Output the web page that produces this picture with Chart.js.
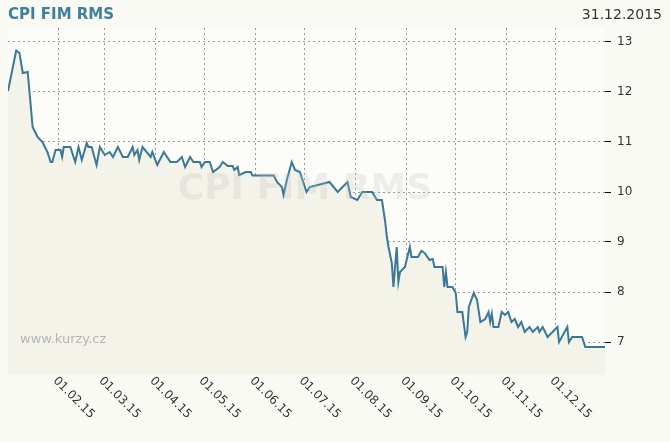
<!DOCTYPE html>
<html><head><meta charset="utf-8">
<script src="https://cdn.jsdelivr.net/npm/chart.js@4/dist/chart.umd.min.js"></script>
<style>body{margin:0;background:#fafaf5}#w{width:670px;height:442px;position:relative}</style>
</head><body><div id="w"><canvas id="c"></canvas></div>
<script>
// day of year 2015 (0 = 1 Jan) and closing price
const days = [0,5,7,9,12,13,15,18,21,24,26,27,29,32,33,34,38,41,43,45,48,49,51,54,56,59,62,64,67,70,73,76,77,79,80,82,87,88,91,95,99,103,106,108,111,113,117,118,120,123,125,129,131,134,137,138,140,141,145,148,149,162,164,167,168,170,173,175,178,182,184,196,201,207,209,213,216,222,225,228,230,231,232,234,235,237,238,239,242,245,246,250,252,254,257,259,260,265,266,267,268,271,273,274,277,279,280,281,284,286,288,291,293,294,295,296,299,301,303,305,307,309,311,313,315,318,320,323,324,326,329,332,335,336,341,342,344,347,350,352,364];
const prices = [12.02,12.83,12.78,12.38,12.4,12.04,11.3,11.1,11.0,10.8,10.6,10.6,10.84,10.84,10.7,10.9,10.9,10.6,10.9,10.64,10.98,10.9,10.9,10.54,10.9,10.74,10.8,10.7,10.9,10.7,10.7,10.9,10.74,10.84,10.64,10.9,10.7,10.8,10.54,10.8,10.6,10.6,10.7,10.5,10.7,10.6,10.6,10.5,10.6,10.6,10.4,10.5,10.6,10.52,10.52,10.44,10.5,10.34,10.4,10.4,10.33,10.33,10.2,10.1,9.94,10.24,10.6,10.44,10.4,10.0,10.1,10.2,10.0,10.2,9.9,9.84,10.0,10.0,9.84,9.84,9.4,9.1,8.9,8.58,8.1,8.9,8.2,8.4,8.5,8.9,8.7,8.7,8.82,8.78,8.64,8.66,8.5,8.5,8.1,8.4,8.1,8.1,7.98,7.6,7.6,7.1,7.2,7.7,7.98,7.84,7.4,7.46,7.6,7.4,7.56,7.3,7.3,7.6,7.54,7.6,7.4,7.46,7.3,7.4,7.2,7.3,7.2,7.3,7.2,7.3,7.1,7.2,7.3,7.0,7.3,7.0,7.1,7.1,7.1,6.9,6.9];
const monthDays = [31,59,90,120,151,181,212,243,273,304,334];
const monthLabels = ['01.02.15','01.03.15','01.04.15','01.05.15','01.06.15','01.07.15','01.08.15','01.09.15','01.10.15','01.11.15','01.12.15'];
const yTicks = [7,8,9,10,11,12,13];

const extras = {
  id: 'extras',
  beforeDraw(chart) {
    const { ctx, chartArea: a } = chart;
    ctx.save();
    ctx.fillStyle = '#fafaf5';
    ctx.fillRect(0, 0, chart.width, chart.height);
    ctx.fillStyle = '#fcfcf8';
    ctx.fillRect(a.left, a.top, a.right - a.left, a.bottom - a.top);
    ctx.restore();
  },
  afterDatasetsDraw(chart) {
    const { ctx } = chart;
    ctx.save();
    ctx.fillStyle = 'rgba(190,190,190,0.25)';
    ctx.font = 'bold 36px "DejaVu Sans"';
    ctx.textAlign = 'center';
    ctx.textBaseline = 'middle';
    ctx.fillText('CPI FIM RMS', 305, 190);
    ctx.restore();
  },
  afterDraw(chart) {
    const { ctx, chartArea: a } = chart;
    const xs = chart.scales.x;
    ctx.save();
    ctx.textBaseline = 'middle';
    ctx.font = 'bold 15px "DejaVu Sans"';
    ctx.fillStyle = '#3f7fa0';
    ctx.fillText('CPI FIM RMS', 8, 15);
    ctx.font = '14px "DejaVu Sans"';
    ctx.fillStyle = '#333';
    ctx.textAlign = 'right';
    ctx.fillText('31.12.2015', 662, 15);
    ctx.textAlign = 'left';
    ctx.font = '13px "DejaVu Sans"';
    ctx.fillStyle = '#b5b5b5';
    ctx.fillText('www.kurzy.cz', 20, 340);
    // rotated month labels, reading down to the right from each tick
    ctx.font = '12px "DejaVu Sans"';
    ctx.fillStyle = '#333';
    monthDays.forEach((d, i) => {
      const x = xs.getPixelForValue(d);
      ctx.save();
      ctx.translate(x - 4, a.bottom + 4);
      ctx.rotate(Math.PI / 4);
      ctx.textBaseline = 'middle';
      ctx.fillText(monthLabels[i], 0, 0);
      ctx.restore();
    });
    ctx.restore();
  }
};

new Chart(document.getElementById('c'), {
  type: 'line',
  data: {
    datasets: [{
      data: days.map((d, i) => ({ x: d, y: prices[i] })),
      borderColor: '#3a7898',
      borderWidth: 2,
      backgroundColor: '#f3f3ea',
      fill: 'start',
      pointRadius: 0,
      tension: 0
    }]
  },
  options: {
    responsive: true,
    maintainAspectRatio: false,
    animation: false,
    layout: { padding: { left: 8, top: 28, right: 0, bottom: 0 } },
    plugins: { legend: { display: false }, tooltip: { enabled: false } },
    scales: {
      x: {
        type: 'linear', min: 0, max: 364,
        afterBuildTicks: s => { s.ticks = monthDays.map(v => ({ value: v })); },
        ticks: { display: false },
        grid: { color: '#999', drawTicks: false },
        border: { display: false, dash: [2, 3] },
        afterFit: s => { s.height = 442 - 375; }
      },
      y: {
        position: 'right', min: 6.34, max: 13.28,
        afterBuildTicks: s => { s.ticks = yTicks.map(v => ({ value: v })); },
        ticks: { color: '#333', font: { size: 12, family: 'DejaVu Sans' }, padding: 6 },
        grid: { color: '#999', tickLength: 6, tickColor: '#000' },
        border: { display: false, dash: [2, 3] },
        afterFit: s => { s.width = 65; }
      }
    }
  },
  plugins: [extras]
});
</script></body></html>
